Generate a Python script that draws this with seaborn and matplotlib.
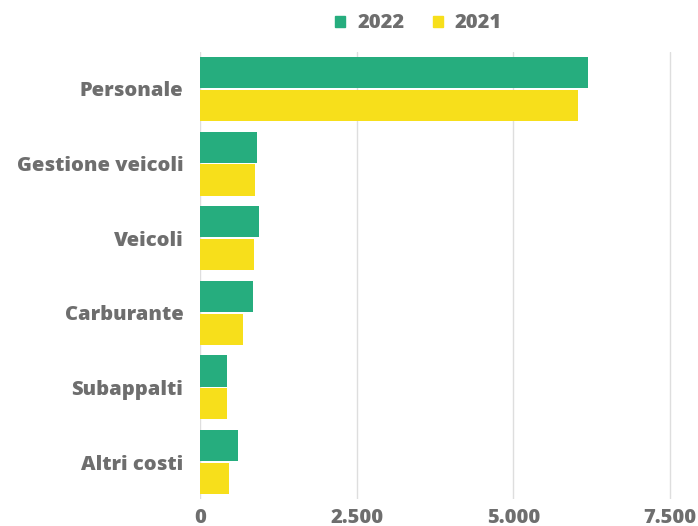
import matplotlib
matplotlib.use('Agg')
import matplotlib.pyplot as plt
import seaborn as sns
import pandas as pd
from matplotlib.ticker import FuncFormatter

categories = ['Personale', 'Gestione veicoli', 'Veicoli', 'Carburante', 'Subappalti', 'Altri costi']
values_2022 = [6190, 909, 947, 846, 437, 612]
values_2021 = [6036, 877, 862, 692, 437, 463]
years = ['2022', '2021']
xticks = [0, 2500, 5000, 7500]

colors = {'2022': '#26ad7e', '2021': '#f7df1b'}
gray = '#6e6e6e'

df = pd.DataFrame({
    'categoria': categories * 2,
    'valore': values_2022 + values_2021,
    'anno': ['2022'] * len(categories) + ['2021'] * len(categories),
})

sns.set_theme(style='white')
plt.rcParams['font.family'] = ['Open Sans', 'DejaVu Sans']

fig = plt.figure(figsize=(6.98, 5.26), dpi=100)
ax = fig.add_axes([200 / 698, 1 - 499.3 / 526, 480 / 698, 447.6 / 526])

sns.barplot(data=df, x='valore', y='categoria', hue='anno', hue_order=years,
            palette=colors, orient='h', width=0.88, gap=0.05, ax=ax,
            saturation=1, legend=False, zorder=3, linewidth=0)

ax.set_xlim(0, 7500 * 480 / 470)
ax.set_xticks(xticks)
ax.xaxis.set_major_formatter(FuncFormatter(lambda v, p: f'{int(v):,}'.replace(',', '.')))
ax.grid(axis='x', color='#dedede', linewidth=1, zorder=0)
ax.set_xlabel('')
ax.set_ylabel('')
for s in ax.spines.values():
    s.set_visible(False)
ax.tick_params(axis='both', length=0)
ax.tick_params(axis='x', pad=6)
ax.tick_params(axis='y', pad=12)
for lab in ax.get_xticklabels() + ax.get_yticklabels():
    lab.set_fontweight(800)
    lab.set_color(gray)
    lab.set_fontsize(14.5)

# legenda in alto
handles = [plt.Rectangle((0, 0), 1, 1, color=colors[y]) for y in years]
leg = fig.legend(handles, years, loc='center', bbox_to_anchor=(418.5 / 698, 1 - 23.5 / 526),
                 ncol=2, frameon=False, handlelength=0.5, handleheight=0.5,
                 columnspacing=1.4, handletextpad=0.6,
                 prop={'weight': 800, 'size': 14.5})
for t in leg.get_texts():
    t.set_color(gray)

fig.savefig('out.png', dpi=100)
